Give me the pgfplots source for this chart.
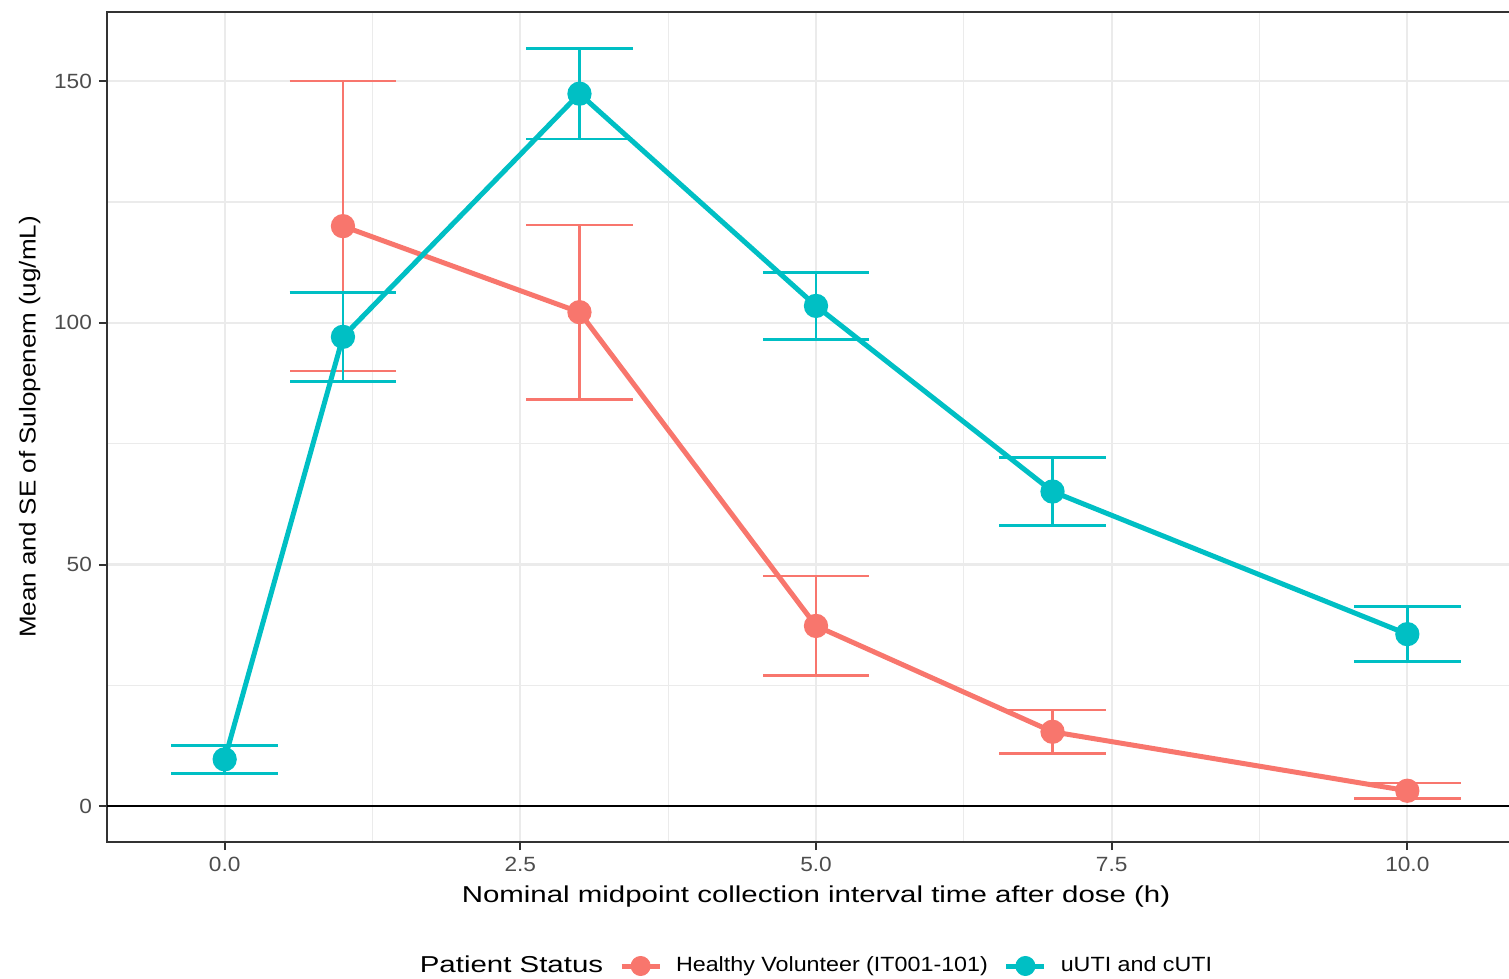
\documentclass[border=0pt]{standalone}
\usepackage{fontspec}
\setmainfont{Liberation Sans}
\newfontfamily\fxl{Liberation Sans}[FakeStretch=1.28]
\newfontfamily\fyl{Liberation Sans}[FakeStretch=1.13]
\newfontfamily\fleg{Liberation Sans}[FakeStretch=1.13]
\newfontfamily\ftick{Liberation Sans}[FakeStretch=1.1]
\usepackage{pgfplots}
\usepackage{pgfplotstable}
\pgfplotsset{compat=1.18}
\definecolor{hv}{HTML}{F8766D}
\definecolor{ut}{HTML}{00BFC4}
\definecolor{gridc}{HTML}{EBEBEB}
\definecolor{tickc}{HTML}{333333}
\definecolor{labc}{HTML}{4D4D4D}

\pgfplotstableread{
x y e
1 120.0 30.0
3 102.2 18.0
5 37.3 10.3
7 15.4 4.5
10 3.2 1.6
}\hvdata
\pgfplotstableread{
x y e
0 9.7 2.9
1 97.1 9.2
3 147.4 9.4
5 103.5 6.9
7 65.1 7.0
10 35.6 5.7
}\utdata

\begin{document}
\begin{tikzpicture}
\begin{axis}[
 scale only axis, width=709pt, height=415pt,
 xmin=-0.995, xmax=10.995, ymin=-7.4, ymax=164.3,
 xtick={0,2.5,5,7.5,10}, minor xtick={1.25,3.75,6.25,8.75},
 ytick={0,50,100,150}, minor ytick={25,75,125},
 xticklabel style={/pgf/number format/.cd, fixed, fixed zerofill, precision=1},
 /pgf/number format/assume math mode=true,
 grid=both,
 major grid style={gridc, line width=1.1pt},
 minor grid style={gridc, line width=0.55pt},
 tick align=outside, tick pos=left,
 major tick length=4pt, minor tick length=0pt,
 every tick/.style={tickc, line width=1pt},
 axis line style={tickc, line width=0.9pt},
 ticklabel style={font=\ftick\fontsize{10.3}{12}\selectfont, text=labc},
 xlabel={Nominal midpoint collection interval time after dose (h)},
 ylabel={Mean and SE of Sulopenem (ug/mL)},
 xlabel style={font=\fxl\fontsize{11.5}{14}\selectfont},
 ylabel style={font=\fyl\fontsize{11.5}{14}\selectfont},
 legend style={draw=none, fill=none, legend columns=-1, at={(0.5,-0.1494)}, anchor=center,
   font=\fleg\fontsize{10.3}{12}\selectfont,
   /tikz/every even column/.append style={column sep=6pt}},
 legend cell align=left,
]
\addplot[black, line width=0.9pt, forget plot] coordinates {(-0.995,0) (10.995,0)};
\addplot[draw=none, forget plot, error bars/.cd, y dir=both, y explicit, error mark=|,
  error bar style={draw=hv, line width=1.3pt},
  error mark options={draw=hv, mark size=26.6pt, line width=1.3pt}]
  table[x=x, y=y, y error=e] {\hvdata};
\addplot[draw=none, forget plot, error bars/.cd, y dir=both, y explicit, error mark=|,
  error bar style={draw=ut, line width=1.3pt},
  error mark options={draw=ut, mark size=26.6pt, line width=1.3pt}]
  table[x=x, y=y, y error=e] {\utdata};
\addplot[hv, line width=2.5pt, mark=*, mark size=4.8pt, mark options={fill=hv, draw=none}, forget plot]
  table[x=x, y=y] {\hvdata};
\addplot[ut, line width=2.5pt, mark=*, mark size=4.8pt, mark options={fill=ut, draw=none}, forget plot]
  table[x=x, y=y] {\utdata};
\addlegendimage{empty legend}
\addlegendentry{\fxl\fontsize{11.5}{14}\selectfont Patient Status}
\addlegendimage{legend image code/.code={\draw[hv, line width=2.5pt] (0pt,0pt) -- (19pt,0pt); \fill[hv] (9.5pt,0pt) circle (4.8pt); \path (25pt,0pt);}}
\addlegendentry{Healthy Volunteer (IT001-101)}
\addlegendimage{legend image code/.code={\draw[ut, line width=2.5pt] (0pt,0pt) -- (19pt,0pt); \fill[ut] (9.5pt,0pt) circle (4.8pt); \path (25pt,0pt);}}
\addlegendentry{uUTI and cUTI}
\coordinate (SW) at (rel axis cs:0,0);
\coordinate (NE) at (rel axis cs:1,1);
\end{axis}
\pgfresetboundingbox
\path ([shift={(-53.5pt,-68.5pt)}]SW) rectangle ([shift={(-8pt,6pt)}]NE);
\end{tikzpicture}
\end{document}
